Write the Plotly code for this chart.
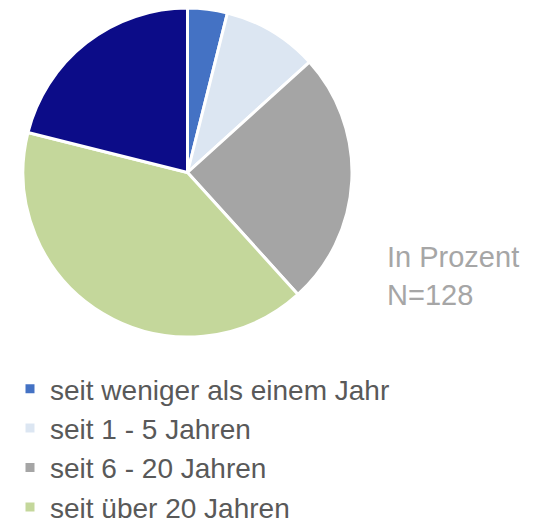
import plotly.graph_objects as go

W, H = 539, 519

labels = [
    "seit weniger als einem Jahr",
    "seit 1 - 5 Jahren",
    "seit 6 - 20 Jahren",
    "seit über 20 Jahren",
    "schon immer",
]
counts = [5, 12, 32, 52, 27]
colors = ["#4472C4", "#DCE6F2", "#A5A5A5", "#C4D79B", "#0C0C88"]

fig = go.Figure(
    go.Pie(
        labels=labels,
        values=counts,
        sort=False,
        direction="clockwise",
        rotation=0,
        textinfo="none",
        hoverinfo="label+percent",
        marker=dict(colors=colors, line=dict(color="white", width=3)),
        domain=dict(x=[22 / W, 353 / W], y=[1 - 337 / H, 1 - 8 / H]),
    )
)

fig.add_annotation(
    text="In Prozent<br>N=128",
    xref="paper", yref="paper",
    x=385 / W, y=1 - 239 / H,
    xanchor="left", yanchor="top",
    align="left",
    showarrow=False,
    font=dict(family="Liberation Sans, Arial, sans-serif", size=29, color="#A6A6A6"),
)

fig.update_layout(
    width=W, height=H,
    margin=dict(l=0, r=0, t=0, b=0, autoexpand=False),
    paper_bgcolor="white",
    plot_bgcolor="white",
    showlegend=True,
    legend=dict(
        x=10 / W, y=1 - 364 / H,
        xanchor="left", yanchor="top",
        font=dict(family="Liberation Sans, Arial, sans-serif", size=28, color="#595959"),
        bgcolor="rgba(0,0,0,0)",
        traceorder="normal",
    ),
)

fig.write_html(
    "out.html",
    config={"displayModeBar": False},
    post_script="document.body.style.margin='0';document.body.style.overflow='hidden';",
)
